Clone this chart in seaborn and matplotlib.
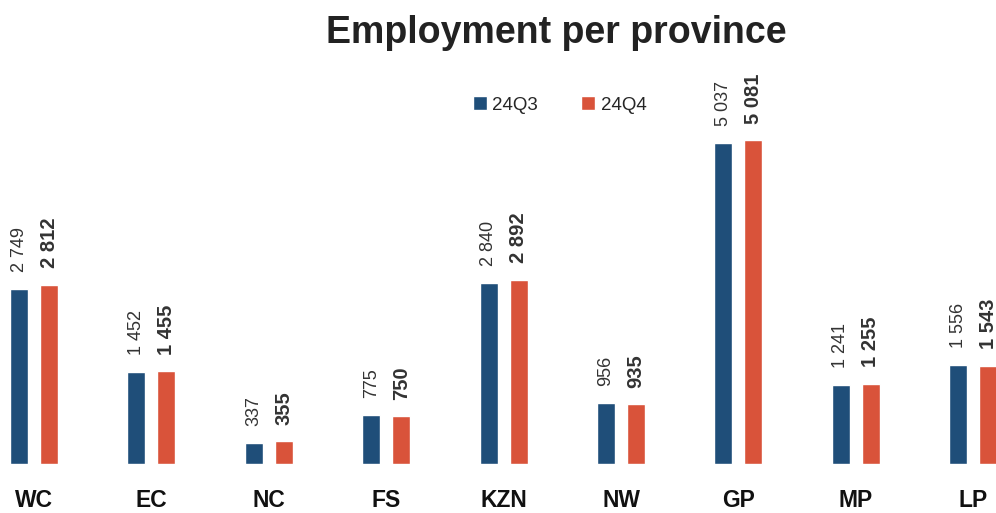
import matplotlib
matplotlib.use("Agg")
import matplotlib.pyplot as plt
import pandas as pd
import seaborn as sns

provinces = ["WC", "EC", "NC", "FS", "KZN", "NW", "GP", "MP", "LP"]
q3_values = [2749, 1452, 337, 775, 2840, 956, 5037, 1241, 1556]
q4_values = [2812, 1455, 355, 750, 2892, 935, 5081, 1255, 1543]
quarters = ["24Q3", "24Q4"]
colors = ["#1F4E79", "#D9533A"]

df = pd.DataFrame({
    "province": provinces * 2,
    "quarter": [quarters[0]] * len(provinces) + [quarters[1]] * len(provinces),
    "value": q3_values + q4_values,
})

sns.set_style("white")
plt.rcParams["font.family"] = ["Liberation Sans", "DejaVu Sans"]

fig = plt.figure(figsize=(9.96, 5.13), dpi=100)
ax = fig.add_axes([0, 0.0955, 1, 0.9045])

sns.barplot(data=df, x="province", y="value", hue="quarter", palette=colors,
            width=0.51, gap=0.4, ax=ax, saturation=1)

# value labels, space as thousands separator
for i, cont in enumerate(ax.containers):
    labels = [f"{int(v):,}".replace(",", " ") for v in cont.datavalues]
    ax.bar_label(cont, labels=labels, rotation=90, padding=12,
                 fontsize=13 if i == 0 else 14.5,
                 fontweight="normal" if i == 0 else "bold",
                 color="#333333")

ax.set_xlim(-0.29, 8.194)
ax.set_ylim(0, 7284)
ax.set_xlabel("")
ax.set_ylabel("")
ax.set_yticks([])
sns.despine(ax=ax, left=True, bottom=True)
ax.tick_params(axis="x", length=0, pad=18)
for lbl in ax.get_xticklabels():
    lbl.set_fontsize(16.5)
    lbl.set_fontweight("bold")
    lbl.set_color("#111111")

sns.move_legend(ax, "center", bbox_to_anchor=(0.562, 0.795),
                bbox_transform=fig.transFigure, ncol=2, frameon=False,
                title=None, fontsize=13.5, handlelength=0.75, handleheight=0.75,
                handletextpad=0.3, columnspacing=2.3)

fig.text(0.559, 0.935, "Employment per province", ha="center", va="center",
         fontsize=27, fontweight="bold", color="#222222")

fig.savefig("out.png", dpi=100)
plt.close(fig)
